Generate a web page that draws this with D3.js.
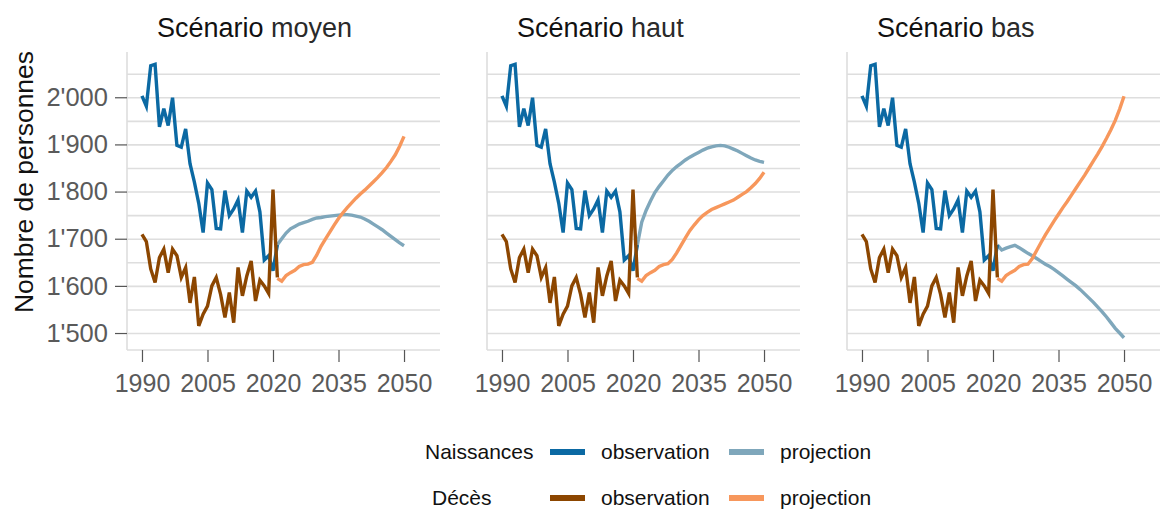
<!DOCTYPE html>
<html>
<head>
<meta charset="utf-8">
<script src="https://cdn.jsdelivr.net/npm/d3@7"></script>
<style>
  body { margin: 0; background: #fff; }
  text { font-family: "Liberation Sans", Arial, sans-serif; }
</style>
</head>
<body>
<div id="chart"></div>
<script>
// ---- data ----
const scenarios = ["moyen", "haut", "bas"]

const obsYears = [1990, 1991, 1992, 1993, 1994, 1995, 1996, 1997, 1998, 1999,
    2000, 2001, 2002, 2003, 2004, 2005, 2006, 2007, 2008, 2009,
    2010, 2011, 2012, 2013, 2014, 2015, 2016, 2017, 2018, 2019, 2020, 2021]

const birthsObs = [2003, 1981, 2067, 2070, 1937, 1976, 1940, 1999, 1898, 1894,
    1933, 1859, 1820, 1775, 1713, 1818, 1804, 1722, 1721, 1802,
    1749, 1763, 1782, 1713, 1801, 1788, 1801, 1757, 1655, 1664, 1632, 1687]

const deathsObs = [1709, 1694, 1636, 1607, 1660, 1678, 1628, 1678, 1664, 1618,
    1639, 1564, 1619, 1515, 1540, 1557, 1600, 1618, 1582, 1533,
    1586, 1522, 1639, 1579, 1621, 1653, 1568, 1612, 1600, 1584, 1804, 1618]

const projYears = [2021, 2022, 2023, 2024, 2025, 2026, 2027, 2028, 2029, 2030,
    2031, 2032, 2033, 2034, 2035, 2036, 2037, 2038, 2039, 2040,
    2041, 2042, 2043, 2044, 2045, 2046, 2047, 2048, 2049, 2050]

const birthsProjMoyen = [1687, 1700, 1712, 1721, 1726, 1731, 1734, 1737, 1741, 1744,
    1745, 1747, 1748, 1749, 1750, 1751, 1751, 1750, 1748, 1746,
    1742, 1737, 1731, 1725, 1719, 1712, 1705, 1698, 1691, 1685]
const birthsProjHaut = [1687, 1735, 1760, 1780, 1798, 1811, 1823, 1835, 1845, 1853,
    1860, 1867, 1873, 1878, 1883, 1888, 1892, 1895, 1897, 1898,
    1897, 1894, 1890, 1886, 1881, 1876, 1871, 1867, 1864, 1862]
const birthsProjBas = [1687, 1676, 1680, 1683, 1686, 1681, 1675, 1669, 1664, 1658,
    1652, 1646, 1641, 1635, 1628, 1621, 1614, 1607, 1600, 1592,
    1583, 1574, 1565, 1555, 1545, 1534, 1522, 1510, 1500, 1490]

const deathsProjMoyen = [1616, 1610, 1622, 1628, 1633, 1641, 1645, 1646, 1650, 1665,
    1684, 1699, 1714, 1729, 1743, 1755, 1766, 1776, 1786, 1795,
    1803, 1812, 1821, 1830, 1840, 1851, 1864, 1878, 1896, 1917]
const deathsProjHaut = [1616, 1610, 1622, 1628, 1633, 1641, 1645, 1647, 1656, 1670,
    1686, 1702, 1717, 1729, 1740, 1749, 1756, 1762, 1766, 1770,
    1774, 1778, 1782, 1788, 1794, 1800, 1808, 1817, 1828, 1841]
const deathsProjBas = [1616, 1610, 1622, 1628, 1633, 1641, 1645, 1646, 1658, 1675,
    1692, 1708, 1723, 1738, 1752, 1766, 1779, 1793, 1807, 1821,
    1835, 1850, 1865, 1880, 1896, 1913, 1931, 1951, 1975, 2002]

const birthsProj = [birthsProjMoyen, birthsProjHaut, birthsProjBas]
const deathsProj = [deathsProjMoyen, deathsProjHaut, deathsProjBas]

const xTicks = [1990, 2005, 2020, 2035, 2050]
const yTicks = [1500, 1600, 1700, 1800, 1900, 2000]
const gridTicks = [1500, 1550, 1600, 1650, 1700, 1750, 1800, 1850, 1900, 1950, 2000, 2050]

// ---- layout ----
const WIDTH = 1167
const HEIGHT = 509
const PANEL = { TOP: 52, BOTTOM: 350, W: 313, GAP: 47, LEFT: 127 }
const COLORS = {
    birthsObs: "#0b69a3",
    birthsProj: "#7fa7bb",
    deathsObs: "#8c4600",
    deathsProj: "#f7975c"
}
const LW = 3.4

const svg = d3.select("#chart")
    .append("svg")
    .attr("width", WIDTH)
    .attr("height", HEIGHT)

const x = d3.scaleLinear()
    .domain([1986.57, 2058.24])
    .range([0, PANEL.W])

const y = d3.scaleLinear()
    .domain([1464, 2096])
    .range([PANEL.BOTTOM - PANEL.TOP, 0])

const fmt = d3.formatLocale({ decimal: ".", thousands: "'", grouping: [3], currency: ["", ""] }).format(",")

const line = d3.line()
    .x(d => x(d[0]))
    .y(d => y(d[1]))

const zip = (a, b) => a.map((v, i) => [v, b[i]])

scenarios.forEach((name, i) => {
    const g = svg.append("g")
        .attr("transform", `translate(${PANEL.LEFT + i * (PANEL.W + PANEL.GAP)}, ${PANEL.TOP})`)
    const h = PANEL.BOTTOM - PANEL.TOP

    // grid
    const grid = g.append("g")
        .call(d3.axisLeft(y).tickValues(gridTicks).tickSize(-PANEL.W).tickFormat(""))
    grid.select(".domain").remove()
    grid.selectAll("line").attr("stroke", "#dedede").attr("stroke-width", 1.6)

    // vertical axis line
    g.append("line")
        .attr("x1", 0).attr("x2", 0)
        .attr("y1", 0).attr("y2", h)
        .attr("stroke", "#dedede").attr("stroke-width", 1.6)

    // x axis
    const xAxis = g.append("g")
        .attr("transform", `translate(0, ${h})`)
        .call(d3.axisBottom(x).tickValues(xTicks).tickFormat(d3.format("d")).tickSize(12).tickSizeOuter(0))
    xAxis.select(".domain").attr("stroke", "#dedede").attr("stroke-width", 1.6)
        .attr("d", `M0,0H${PANEL.W}`)
    xAxis.selectAll(".tick line").attr("stroke", "#555").attr("stroke-width", 1.2)
    xAxis.selectAll(".tick text")
        .attr("y", 24)
        .attr("fill", "#5a5a5a")
        .style("font-size", "25px")
        .style("font-family", "Liberation Sans, Arial, sans-serif")

    // y axis on first panel only
    if (i === 0) {
        const yAxis = g.append("g")
            .call(d3.axisLeft(y).tickValues(yTicks).tickFormat(fmt).tickSize(12).tickPadding(7))
        yAxis.select(".domain").remove()
        yAxis.selectAll(".tick line").attr("stroke", "#555").attr("stroke-width", 1.2)
        yAxis.selectAll(".tick text")
            .attr("fill", "#5a5a5a")
            .style("font-size", "25.5px")
            .style("font-family", "Liberation Sans, Arial, sans-serif")

        g.append("text")
            .attr("transform", `translate(${33 - PANEL.LEFT}, ${182 - PANEL.TOP}) rotate(-90)`)
            .attr("text-anchor", "middle")
            .style("font-size", "26.5px")
            .attr("fill", "#111")
            .text("Nombre de personnes")
    }

    // lines
    g.append("path")
        .datum(zip(projYears, birthsProj[i]))
        .attr("d", line)
        .attr("fill", "none").attr("stroke", COLORS.birthsProj).attr("stroke-width", LW)
    g.append("path")
        .datum(zip(obsYears, birthsObs))
        .attr("d", line)
        .attr("fill", "none").attr("stroke", COLORS.birthsObs).attr("stroke-width", LW)
    g.append("path")
        .datum(zip(projYears, deathsProj[i]))
        .attr("d", line)
        .attr("fill", "none").attr("stroke", COLORS.deathsProj).attr("stroke-width", LW)
    g.append("path")
        .datum(zip(obsYears, deathsObs))
        .attr("d", line)
        .attr("fill", "none").attr("stroke", COLORS.deathsObs).attr("stroke-width", LW)

    // title
    const title = g.append("text")
        .attr("x", 30)
        .attr("y", 37 - PANEL.TOP)
        .style("font-size", "27px")
    title.append("tspan").attr("fill", "#111").text("Scénario ")
    title.append("tspan").attr("fill", "#2a2a2a").text(name)
})

// legend
const legendRows = [
    { label: "Naissances", lx: 425, y: 452, obs: COLORS.birthsObs, proj: COLORS.birthsProj },
    { label: "Décès", lx: 432, y: 498, obs: COLORS.deathsObs, proj: COLORS.deathsProj }
]
const legend = svg.append("g")
legendRows.forEach(r => {
    legend.append("text")
        .attr("x", r.lx).attr("y", r.y + 7)
        .style("font-size", "21px").attr("fill", "#111")
        .text(r.label)
    legend.append("rect")
        .attr("x", 550).attr("y", r.y - 3).attr("width", 35).attr("height", 6)
        .attr("fill", r.obs)
    legend.append("text")
        .attr("x", 601).attr("y", r.y + 7)
        .style("font-size", "21px").attr("fill", "#111")
        .text("observation")
    legend.append("rect")
        .attr("x", 729).attr("y", r.y - 3).attr("width", 35).attr("height", 6)
        .attr("fill", r.proj)
    legend.append("text")
        .attr("x", 780).attr("y", r.y + 7)
        .style("font-size", "21px").attr("fill", "#111")
        .text("projection")
})
</script>
</body>
</html>
